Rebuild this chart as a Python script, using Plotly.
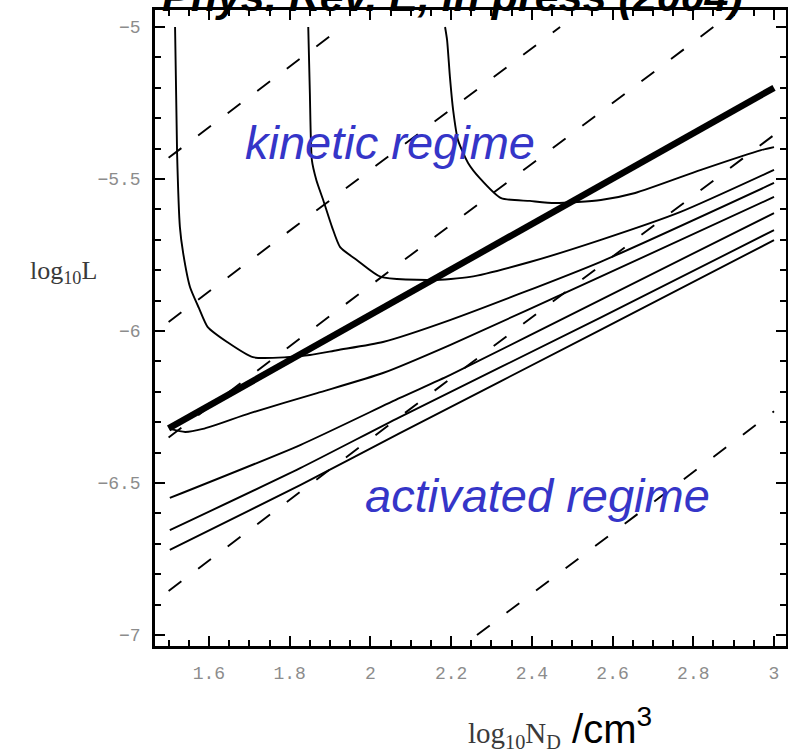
import plotly.graph_objects as go

# ---------------- data ----------------
thick_x = [1.5, 3.0]
thick_y = [-6.32, -5.20]

curve1_x = [1.516, 1.521, 1.528, 1.536, 1.553, 1.575, 1.597, 1.645, 1.709, 1.793, 1.850, 1.917, 2.031, 2.197, 2.569, 3.0]
curve1_y = [-5.0, -5.414, -5.658, -5.743, -5.855, -5.924, -5.987, -6.036, -6.086, -6.086, -6.079, -6.063, -6.036, -5.964, -5.773, -5.513]

curve2_x = [1.846, 1.850, 1.855, 1.866, 1.883, 1.905, 1.925, 1.967, 2.026, 2.152, 2.247, 2.395, 2.569, 2.767, 3.0]
curve2_y = [-5.0, -5.217, -5.438, -5.503, -5.569, -5.658, -5.724, -5.767, -5.822, -5.832, -5.822, -5.773, -5.701, -5.609, -5.470]

curve3_x = [2.185, 2.190, 2.197, 2.205, 2.217, 2.242, 2.271, 2.324, 2.395, 2.457, 2.571, 2.656, 2.819, 2.968, 3.0]
curve3_y = [-5.0, -5.043, -5.164, -5.273, -5.372, -5.447, -5.497, -5.563, -5.572, -5.579, -5.569, -5.546, -5.470, -5.405, -5.395]

lineb_x = [1.503, 1.541, 1.585, 1.702, 1.868, 2.031, 2.197, 2.569, 3.0]
lineb_y = [-6.322, -6.332, -6.322, -6.270, -6.204, -6.138, -6.046, -5.822, -5.559]

linec_x = [1.503, 1.826, 2.073, 2.197, 2.569, 3.0]
linec_y = [-6.549, -6.375, -6.220, -6.145, -5.898, -5.612]

lined_x = [1.503, 1.826, 2.073, 2.569, 3.0]
lined_y = [-6.655, -6.451, -6.283, -5.957, -5.668]

linee_x = [1.503, 1.826, 2.073, 2.569, 3.0]
linee_y = [-6.720, -6.507, -6.336, -5.997, -5.701]

dash_x = [[1.5, 1.93], [1.5, 2.47], [1.5, 2.85], [1.5, 3.0], [2.264, 3.0]]
dash_y = [[-5.43, -5.0], [-5.97, -5.0], [-6.35, -5.0], [-6.855, -5.355], [-7.0, -6.264]]

x_tickvals = [1.6, 1.8, 2.0, 2.2, 2.4, 2.6, 2.8, 3.0]
x_ticktext = ["1.6", "1.8", "2", "2.2", "2.4", "2.6", "2.8", "3"]
y_tickvals = [-7, -6.5, -6, -5.5, -5]
y_ticktext = ["\u22127", "\u22126.5", "\u22126", "\u22125.5", "\u22125"]

x_range = [1.4663, 3.0297]
y_range = [-7.036, -4.944]

# ---------------- figure ----------------
fig = go.Figure()

for xs, ys in zip(dash_x, dash_y):
    fig.add_trace(go.Scatter(x=xs, y=ys, mode="lines",
                             line=dict(color="black", width=1.9, dash="16px,21px"),
                             hoverinfo="skip"))

for xs, ys in [(curve1_x, curve1_y), (curve2_x, curve2_y), (curve3_x, curve3_y),
               (lineb_x, lineb_y), (linec_x, linec_y), (lined_x, lined_y), (linee_x, linee_y)]:
    fig.add_trace(go.Scatter(x=xs, y=ys, mode="lines",
                             line=dict(color="black", width=1.9, shape="spline", smoothing=0.6),
                             hoverinfo="skip"))

fig.add_trace(go.Scatter(x=thick_x, y=thick_y, mode="lines",
                         line=dict(color="black", width=6.5), hoverinfo="skip"))

# invisible trace so the top / right frame axes get drawn
fig.add_trace(go.Scatter(x=[None], y=[None], xaxis="x2", yaxis="y2", mode="lines",
                         hoverinfo="skip", showlegend=False))

tickfont = dict(family="Liberation Mono", size=18, color="#8c8c8c")
tick_common = dict(showgrid=False, zeroline=False, showline=True, linecolor="black",
                   linewidth=2.5, ticks="inside", ticklen=10, tickwidth=2.2, tickcolor="black",
                   layer="above traces")
minor_x = dict(dtick=0.05, tick0=1.5, ticks="inside", ticklen=6, tickwidth=1.8, tickcolor="black")
minor_y = dict(dtick=0.1, tick0=-7, ticks="inside", ticklen=6, tickwidth=1.8, tickcolor="black")

fig.update_layout(
    width=788, height=755,
    margin=dict(l=155, r=2, t=10, b=109),
    plot_bgcolor="white", paper_bgcolor="white",
    showlegend=False,
    xaxis=dict(range=x_range, tickvals=x_tickvals, ticktext=x_ticktext, tickfont=tickfont,
               ticklabelstandoff=9, minor=minor_x, **tick_common),
    yaxis=dict(range=y_range, tickvals=y_tickvals, ticktext=y_ticktext, tickfont=tickfont,
               ticklabelstandoff=8, minor=minor_y, **tick_common),
    xaxis2=dict(range=x_range, overlaying="x", side="top", anchor="y2",
                tickvals=x_tickvals, showticklabels=False, minor=minor_x, **tick_common),
    yaxis2=dict(range=y_range, overlaying="y", side="right", anchor="x2",
                tickvals=y_tickvals, showticklabels=False, minor=minor_y, **tick_common),
)

blue = "#3535c8"
fig.add_annotation(x=1.684, y=-5.474, xref="x", yref="y", xanchor="left", yanchor="bottom",
                   text="<i>kinetic regime</i>", showarrow=False,
                   font=dict(family="Liberation Sans", size=47, color=blue))
fig.add_annotation(x=1.982, y=-6.635, xref="x", yref="y", xanchor="left", yanchor="bottom",
                   text="<i>activated regime</i>", showarrow=False,
                   font=dict(family="Liberation Sans", size=47, color=blue))

fig.add_annotation(x=0.472, y=0.981, xref="paper", yref="paper", xanchor="center", yanchor="bottom",
                   text="<b><i>Phys. Rev. E, in press (2004)</i></b>", showarrow=False,
                   font=dict(family="Liberation Sans", size=43, color="black"))

fig.add_annotation(x=-0.145, y=0.588, xref="paper", yref="paper", xanchor="center", yanchor="middle",
                   text="log<sub>10</sub>L", showarrow=False,
                   font=dict(family="Liberation Serif", size=26, color="#3a3a3a"))

fig.add_annotation(x=0.642, y=-0.128, xref="paper", yref="paper", xanchor="center", yanchor="middle",
                   text="<span style='font-family:Liberation Serif;font-size:29px;color:#3a3a3a'>log<sub>10</sub>N<sub>D</sub></span> /cm<sup>3</sup>",
                   showarrow=False,
                   font=dict(family="Liberation Sans", size=40, color="black"))

fig.write_html("out.html")
